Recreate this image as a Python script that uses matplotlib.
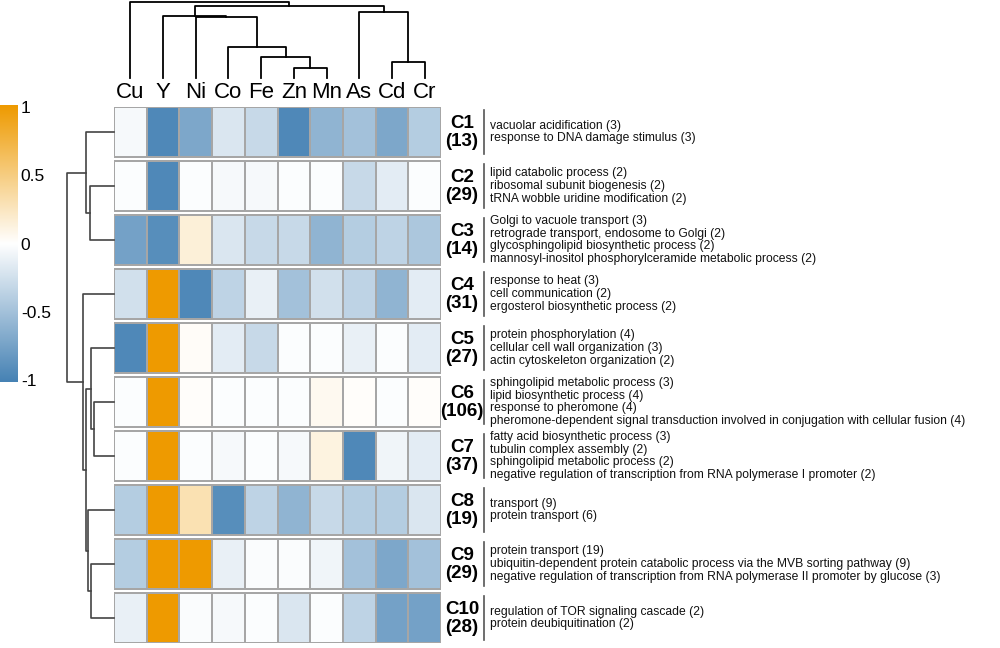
import numpy as np
import matplotlib
matplotlib.use("Agg")
import matplotlib.pyplot as plt
from matplotlib.colors import LinearSegmentedColormap

plt.rcParams['font.family'] = ['Liberation Sans', 'DejaVu Sans']

# data
metals = ['Cu', 'Y', 'Ni', 'Co', 'Fe', 'Zn', 'Mn', 'As', 'Cd', 'Cr']
clusters = ['C1', 'C2', 'C3', 'C4', 'C5', 'C6', 'C7', 'C8', 'C9', 'C10']
cluster_sizes = [13, 29, 14, 31, 27, 106, 37, 19, 29, 28]

values = np.array([
    [-0.05, -0.95, -0.70, -0.20, -0.30, -0.95, -0.60, -0.50, -0.70, -0.40],
    [-0.02, -0.95, -0.02, -0.05, -0.05, -0.02, -0.02, -0.30, -0.15, -0.02],
    [-0.75, -0.90,  0.15, -0.20, -0.30, -0.30, -0.60, -0.40, -0.35, -0.45],
    [-0.25,  1.00, -0.95, -0.35, -0.12, -0.50, -0.25, -0.35, -0.60, -0.15],
    [-0.95,  1.00,  0.03, -0.15, -0.30, -0.02, -0.02, -0.12, -0.02, -0.15],
    [-0.02,  1.00,  0.02, -0.02, -0.02, -0.02,  0.06,  0.02, -0.02,  0.02],
    [-0.02,  1.00, -0.02, -0.05, -0.02, -0.05,  0.12, -0.95, -0.08, -0.15],
    [-0.40,  1.00,  0.30, -0.90, -0.35, -0.60, -0.30, -0.40, -0.40, -0.20],
    [-0.40,  1.00,  1.00, -0.12, -0.03, -0.03, -0.08, -0.50, -0.70, -0.50],
    [-0.12,  1.00, -0.03, -0.05, -0.02, -0.20, -0.02, -0.35, -0.75, -0.75],
])

go_terms = [
    ['vacuolar acidification (3)', 'response to DNA damage stimulus (3)'],
    ['lipid catabolic process (2)', 'ribosomal subunit biogenesis (2)',
     'tRNA wobble uridine modification (2)'],
    ['Golgi to vacuole transport (3)', 'retrograde transport, endosome to Golgi (2)',
     'glycosphingolipid biosynthetic process (2)',
     'mannosyl-inositol phosphorylceramide metabolic process (2)'],
    ['response to heat (3)', 'cell communication (2)', 'ergosterol biosynthetic process (2)'],
    ['protein phosphorylation (4)', 'cellular cell wall organization (3)',
     'actin cytoskeleton organization (2)'],
    ['sphingolipid metabolic process (3)', 'lipid biosynthetic process (4)',
     'response to pheromone (4)',
     'pheromone-dependent signal transduction involved in conjugation with cellular fusion (4)'],
    ['fatty acid biosynthetic process (3)', 'tubulin complex assembly (2)',
     'sphingolipid metabolic process (2)',
     'negative regulation of transcription from RNA polymerase I promoter (2)'],
    ['transport (9)', 'protein transport (6)'],
    ['protein transport (19)',
     'ubiquitin-dependent protein catabolic process via the MVB sorting pathway (9)',
     'negative regulation of transcription from RNA polymerase II promoter by glucose (3)'],
    ['regulation of TOR signaling cascade (2)', 'protein deubiquitination (2)'],
]

# dendrogram merges: (left, right, height); index >= 10 means earlier merge
col_merges = [(5, 6, 10), (4, 10, 21), (3, 11, 31), (2, 12, 61), (1, 13, 62.5),
              (8, 9, 16), (7, 15, 66), (14, 16, 72), (0, 17, 76)]
row_merges = [(1, 2, 24), (0, 10, 28), (5, 6, 20), (4, 12, 23), (8, 9, 23),
              (7, 14, 26.5), (13, 15, 28), (3, 16, 31), (11, 17, 47)]

cmap = LinearSegmentedColormap.from_list('bwo', ['#4682B4', '#FFFFFF', '#EE9A00'])

W, H = 1000, 648
fig = plt.figure(figsize=(10, 6.48), dpi=100)


def px_axes(x0, y0, x1, y1):
    return fig.add_axes([x0 / W, 1 - y1 / H, (x1 - x0) / W, (y1 - y0) / H])


def dendro(ax, merges, leaf_pos, vertical, color, lw):
    pos = list(leaf_pos)
    hts = [0.0] * len(leaf_pos)
    for a, b, h in merges:
        xs = [pos[a], pos[a], pos[b], pos[b]]
        ys = [hts[a], h, h, hts[b]]
        if vertical:
            ax.plot(xs, ys, color=color, lw=lw, clip_on=False)
        else:
            ax.plot(ys, xs, color=color, lw=lw, clip_on=False)
        pos.append((pos[a] + pos[b]) / 2)
        hts.append(h)


gap = 4 / 54
cell_h = 1 - gap

# heatmap
ax = px_axes(114, 107, 441, 643)
for i, row in enumerate(values):
    ax.pcolormesh(np.arange(11), [i, i + cell_h], row[None, :], cmap=cmap,
                  vmin=-1, vmax=1, edgecolors='#a6a6a6', linewidth=1.2)
ax.set_xlim(0, 10)
ax.set_ylim(10 - gap, 0)
ax.xaxis.tick_top()
ax.set_xticks(np.arange(10) + 0.5, metals)
ax.tick_params(axis='x', length=0, labelsize=16, pad=3)
ax.set_yticks([])
for s in ax.spines.values():
    s.set_visible(False)

label_x, bar_x, text_x = 10.64, 11.31, 11.50
for i in range(10):
    yc = i + cell_h / 2
    ax.text(label_x, yc - 0.16, clusters[i], ha='center', va='center',
            fontsize=13.5, fontweight='bold', clip_on=False)
    ax.text(label_x, yc + 0.17, f'({cluster_sizes[i]})', ha='center', va='center',
            fontsize=13.5, fontweight='bold', clip_on=False)
    ax.plot([bar_x, bar_x], [i + 0.05, i + cell_h - 0.05], color='#555555',
            lw=1.2, clip_on=False)
    terms = go_terms[i]
    m = len(terms)
    for k, t in enumerate(terms):
        ax.text(text_x, yc + (k - (m - 1) / 2) * 0.237, t, ha='left', va='center',
                fontsize=8.75, color='#111111', clip_on=False)

# top dendrogram
ax_top = px_axes(114, 0, 441, 78)
dendro(ax_top, col_merges, np.arange(10) + 0.5, True, 'black', 1.3)
ax_top.set_xlim(0, 10)
ax_top.set_ylim(0, 78)
ax_top.axis('off')

# left dendrogram
ax_left = px_axes(60, 107, 114, 643)
dendro(ax_left, row_merges, np.arange(10) + cell_h / 2, False, '#444444', 1.2)
ax_left.set_xlim(54, 0)
ax_left.set_ylim(10 - gap, 0)
ax_left.axis('off')

# colour bar
ax_cb = px_axes(0, 105, 18, 382)
ax_cb.imshow(np.linspace(1, -1, 256)[:, None], aspect='auto', cmap=cmap,
             vmin=-1, vmax=1, extent=[0, 1, -1.015, 1.015])
ax_cb.set_ylim(-1.015, 1.015)
ax_cb.yaxis.tick_right()
ax_cb.set_yticks([-1, -0.5, 0, 0.5, 1], ['-1', '-0.5', '0', '0.5', '1'])
ax_cb.tick_params(axis='y', length=0, labelsize=12.5, pad=2)
ax_cb.set_xticks([])
for s in ax_cb.spines.values():
    s.set_visible(False)

fig.savefig('out.png', dpi=100)
